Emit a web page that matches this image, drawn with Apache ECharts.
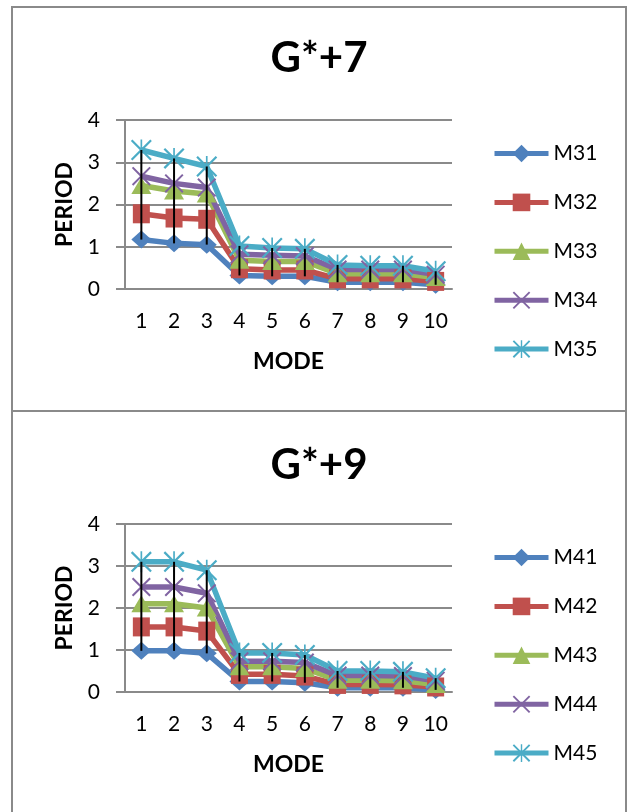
<!DOCTYPE html>
<html>
<head>
<meta charset="utf-8">
<script src="https://cdn.jsdelivr.net/npm/echarts@6/dist/echarts.min.js"></script>
<style>
html, body { margin: 0; padding: 0; background: #fff; }
#main { width: 629px; height: 812px; }
</style>
</head>
<body>
<div id="main"></div>
<script>
// data
const modes = ['1', '2', '3', '4', '5', '6', '7', '8', '9', '10']
const yTicks = [0, 1, 2, 3, 4]

const titleTop = 'G*+7'
const namesTop = ['M31', 'M32', 'M33', 'M34', 'M35']
const m31 = [1.17, 1.08, 1.05, 0.32, 0.30, 0.30, 0.16, 0.16, 0.16, 0.10]
const m32 = [1.78, 1.68, 1.65, 0.48, 0.45, 0.45, 0.24, 0.24, 0.24, 0.18]
const m33 = [2.45, 2.32, 2.25, 0.68, 0.65, 0.65, 0.36, 0.36, 0.36, 0.27]
const m34 = [2.67, 2.50, 2.40, 0.82, 0.80, 0.78, 0.46, 0.46, 0.46, 0.34]
const m35 = [3.29, 3.09, 2.90, 1.02, 0.97, 0.95, 0.57, 0.55, 0.55, 0.42]

const titleBottom = 'G*+9'
const namesBottom = ['M41', 'M42', 'M43', 'M44', 'M45']
const m41 = [0.98, 0.98, 0.92, 0.25, 0.25, 0.22, 0.10, 0.10, 0.10, 0.05]
const m42 = [1.55, 1.55, 1.45, 0.42, 0.42, 0.38, 0.18, 0.18, 0.17, 0.12]
const m43 = [2.10, 2.10, 2.00, 0.60, 0.60, 0.56, 0.28, 0.28, 0.27, 0.18]
const m44 = [2.50, 2.50, 2.35, 0.73, 0.73, 0.70, 0.39, 0.39, 0.38, 0.27]
const m45 = [3.10, 3.10, 2.90, 0.93, 0.93, 0.88, 0.50, 0.50, 0.48, 0.33]

const font = 'Lato, "Open Sans", sans-serif'
const colors = ['#4F81BD', '#C0504D', '#9BBB59', '#8064A2', '#4BACC6']
const xPath = 'path://M0,1.5L1.5,0L10,8.5L18.5,0L20,1.5L11.5,10L20,18.5L18.5,20L10,11.5L1.5,20L0,18.5L8.5,10Z'
const starPath = xPath + 'M9.2,0L10.8,0L10.8,20L9.2,20Z'
const symbols = ['diamond', 'rect', 'triangle', xPath, starPath]
const symbolSizes = [[20, 18], [17, 19], [20, 17], 19, 21]

const gridTops = [120, 524]

function lineSeries(names, arrays, idx) {
  return names.map((n, i) => ({
    name: n,
    type: 'line',
    xAxisIndex: idx,
    yAxisIndex: idx,
    data: arrays[i],
    symbol: symbols[i],
    symbolSize: symbolSizes[i],
    showAllSymbol: true,
    lineStyle: { color: colors[i], width: 5.5 },
    itemStyle: { color: colors[i] },
    emphasis: { disabled: true },
    animation: false
  }))
}

// high-low lines, from the lowest to the highest series at each mode
function hiLow(arrays, idx) {
  const d = modes.map((m, i) => {
    const vals = arrays.map(a => a[i])
    return [i, Math.min(...vals), Math.max(...vals)]
  })
  return {
    type: 'custom',
    xAxisIndex: idx,
    yAxisIndex: idx,
    z: 10,
    data: d,
    renderItem: function(params, api) {
      const p1 = api.coord([api.value(0), api.value(1)])
      const p2 = api.coord([api.value(0), api.value(2)])
      return {
        type: 'line',
        shape: { x1: p1[0], y1: p1[1], x2: p2[0], y2: p2[1] },
        style: { stroke: '#000', lineWidth: 2 }
      }
    },
    animation: false
  }
}

function makeAxes(idx) {
  return {
    x: {
      type: 'category',
      gridIndex: idx,
      data: modes,
      axisLine: { lineStyle: { color: '#8a8a8a', width: 2 } },
      axisTick: { show: false },
      axisLabel: { color: '#000', fontSize: 21, fontFamily: font, margin: 22 },
      name: 'MODE',
      nameLocation: 'middle',
      nameGap: 61,
      nameTextStyle: { color: '#000', fontSize: 23, fontWeight: 'bold', fontFamily: font }
    },
    y: {
      type: 'value',
      gridIndex: idx,
      min: yTicks[0],
      max: yTicks[yTicks.length - 1],
      interval: 1,
      axisLine: { show: true, lineStyle: { color: '#8a8a8a', width: 2 } },
      axisTick: { show: true, length: 9, lineStyle: { color: '#8a8a8a', width: 2 } },
      splitLine: { lineStyle: { color: '#8a8a8a', width: 2 } },
      axisLabel: { color: '#000', fontSize: 21, fontFamily: font, margin: 25 },
      name: 'PERIOD',
      nameLocation: 'middle',
      nameGap: 49,
      nameTextStyle: { color: '#000', fontSize: 23, fontWeight: 'bold', fontFamily: font }
    }
  }
}

const a0 = makeAxes(0)
const a1 = makeAxes(1)
const topArrays = [m31, m32, m33, m34, m35]
const bottomArrays = [m41, m42, m43, m44, m45]

function legend(names, top) {
  return {
    orient: 'vertical',
    left: 492,
    top: top,
    padding: 0,
    itemWidth: 54,
    itemHeight: 22,
    itemGap: 27.9,
    data: names,
    lineStyle: { width: 5 },
    textStyle: { color: '#000', fontSize: 21, fontFamily: font, padding: [0, 0, 0, 0] },
    selectedMode: false
  }
}

let myChart = echarts.init(document.getElementById('main'))
myChart.setOption({
  animation: false,
  backgroundColor: '#fff',
  graphic: [
    { type: 'rect', shape: { x: 12, y: 7, width: 614, height: 404 }, style: { fill: 'none', stroke: '#8a8a8a', lineWidth: 2 }, silent: true },
    { type: 'rect', shape: { x: 12, y: 411, width: 614, height: 420 }, style: { fill: 'none', stroke: '#8a8a8a', lineWidth: 2 }, silent: true }
  ],
  title: [
    { text: titleTop, left: 319, top: 58, textAlign: 'center', textVerticalAlign: 'middle', padding: 0,
      textStyle: { color: '#000', fontSize: 42, fontWeight: 'bold', fontFamily: font } },
    { text: titleBottom, left: 319, top: 465, textAlign: 'center', textVerticalAlign: 'middle', padding: 0,
      textStyle: { color: '#000', fontSize: 42, fontWeight: 'bold', fontFamily: font } }
  ],
  legend: [legend(namesTop, 143), legend(namesBottom, 547)],
  grid: [
    { left: 125, top: gridTops[0], width: 327, height: 169 },
    { left: 125, top: gridTops[1], width: 327, height: 168 }
  ],
  xAxis: [a0.x, a1.x],
  yAxis: [a0.y, a1.y],
  series: [].concat(
    lineSeries(namesTop, topArrays, 0),
    [hiLow(topArrays, 0)],
    lineSeries(namesBottom, bottomArrays, 1),
    [hiLow(bottomArrays, 1)]
  )
})
window.onresize = function() {
  myChart.resize()
}
</script>
</body>
</html>
